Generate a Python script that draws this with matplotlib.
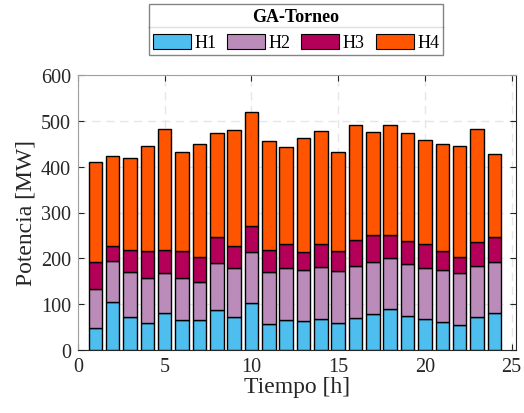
import matplotlib.pyplot as plt
import numpy as np
from matplotlib.lines import Line2D
from matplotlib.patches import Patch

plt.rcParams['font.family'] = ['Liberation Serif', 'DejaVu Serif']

# Potencia por unidad (MW), hora 1..24
horas = np.arange(1, 25)
h1 = [48, 105, 73, 60, 80, 66, 66, 88, 71, 102, 57, 66,
      63, 68, 60, 70, 79, 89, 75, 67, 62, 54, 71, 81]
h2_top = [134, 194, 170, 158, 167, 158, 149, 190, 180, 214, 170, 178,
          175, 181, 173, 183, 193, 201, 188, 179, 174, 167, 184, 192]
h3_top = [191, 228, 218, 215, 219, 215, 203, 246, 228, 270, 219, 232,
          214, 231, 216, 239, 250, 250, 238, 232, 215, 202, 236, 247]
total = [410, 423, 420, 446, 483, 433, 449, 473, 479, 519, 456, 444,
         463, 478, 432, 490, 476, 490, 473, 458, 450, 445, 482, 428]

h1 = np.array(h1)
h2 = np.array(h2_top) - h1
h3 = np.array(h3_top) - np.array(h2_top)
h4 = np.array(total) - np.array(h3_top)

colores = ['#4DBEEE', '#BB8CBA', '#B5005A', '#FF5500']
nombres = ['H1', 'H2', 'H3', 'H4']

fig = plt.figure(figsize=(5.24, 4.14), dpi=100)
ax = fig.add_axes([78 / 524, 1 - 351 / 414, 438 / 524, 275 / 414])

base = np.zeros(len(horas))
for serie, col in zip([h1, h2, h3, h4], colores):
    ax.bar(horas, serie, bottom=base, width=0.78, color=col,
           edgecolor='black', linewidth=1.0, zorder=3)
    base = base + serie

ax.set_xlim(0, 25.25)
ax.set_ylim(0, 600)
ax.set_xticks(np.arange(0, 26, 5))
ax.set_yticks(np.arange(0, 601, 100))
ax.grid(True, linestyle=(0, (6, 4)), color='#e6e6e6', linewidth=1.0, zorder=0)
ax.tick_params(direction='in', top=True, right=True, labelsize=14.5,
               length=4, colors='#262626', pad=5)
for lado in ['top', 'left']:
    ax.spines[lado].set_color('#a0a0a0')
for lado in ['bottom', 'right']:
    ax.spines[lado].set_color('#262626')
ax.set_xlabel('Tiempo [h]', fontsize=17, color='#262626', labelpad=0)
ax.set_ylabel('Potencia [MW]', fontsize=17, color='#262626', labelpad=3)

handles = [Patch(facecolor=c, edgecolor='black', linewidth=0.8) for c in colores]
leg = fig.legend(handles, nombres, ncol=4, loc='upper center',
                 bbox_to_anchor=(296 / 524, 1 - 5 / 414),
                 title='GA-Torneo', title_fontproperties={'weight': 'bold', 'size': 13},
                 fontsize=13, frameon=True, fancybox=False, edgecolor='#666666',
                 handlelength=2.1, handleheight=0.9, handletextpad=0.2,
                 columnspacing=0.6, borderpad=0.2, borderaxespad=0)
leg.get_frame().set_linewidth(1.0)

# linea separadora bajo el titulo de la leyenda
fig.canvas.draw()
r = fig.canvas.get_renderer()
caja = leg.get_frame().get_window_extent(r)
tit = leg.get_title().get_window_extent(r)
y_sep = (tit.y0 - 2) / fig.bbox.height
fig.add_artist(Line2D([caja.x0 / fig.bbox.width, caja.x1 / fig.bbox.width],
                      [y_sep, y_sep], color='#666666', linewidth=1.0))

fig.savefig('out.png', dpi=100)
